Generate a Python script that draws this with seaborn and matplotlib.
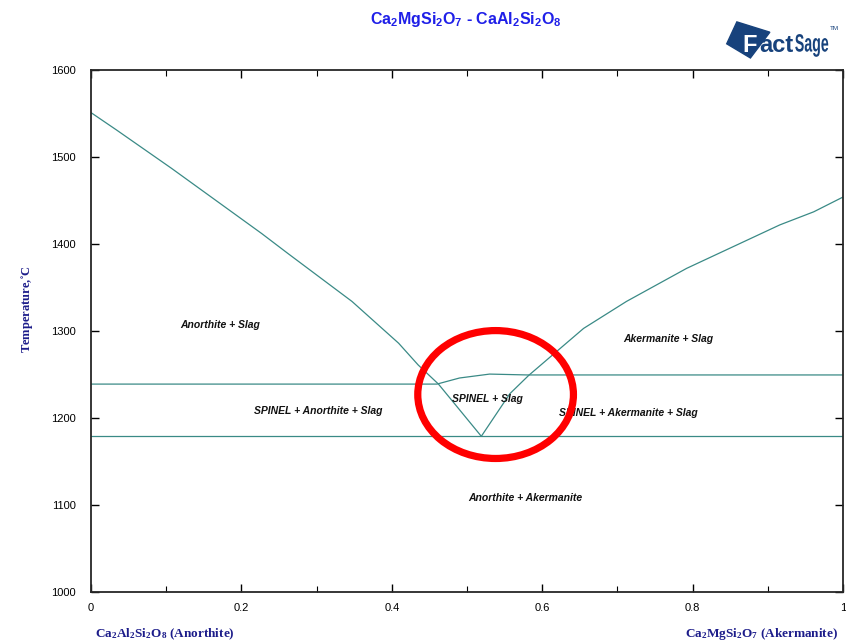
import numpy as np
import pandas as pd
import matplotlib
matplotlib.use("Agg")
import matplotlib.pyplot as plt
from matplotlib.patches import Ellipse, Polygon, PathPatch
from matplotlib.textpath import TextPath
from matplotlib.font_manager import FontProperties
from matplotlib.transforms import Affine2D
import seaborn as sns

# liquidus of anorthite (left branch), mole fraction akermanite vs T
anorthite_x = [0.0, 0.034, 0.107, 0.227, 0.262, 0.347, 0.409, 0.435, 0.462, 0.519]
anorthite_t = [1551, 1531, 1487, 1412, 1389, 1334, 1286, 1261, 1239, 1179]

# liquidus of akermanite (right branch)
akermanite_x = [0.519, 0.557, 0.582, 0.655, 0.712, 0.792, 0.854, 0.916, 0.961, 1.0]
akermanite_t = [1179, 1228, 1249, 1303, 1334, 1372, 1397, 1422, 1437, 1454]

# spinel boundary
spinel_x = [0.0, 0.46, 0.49, 0.53, 0.58, 1.0]
spinel_t = [1239, 1239, 1246, 1250.5, 1249.5, 1249.5]

# solidus / eutectic line
solidus_x = [0.0, 1.0]
solidus_t = [1179, 1179]

# region labels
labels = ["Anorthite + Slag", "Akermanite + Slag", "SPINEL + Anorthite + Slag",
          "SPINEL + Slag", "SPINEL + Akermanite + Slag", "Anorthite + Akermanite"]
label_x = [0.172, 0.767, 0.302, 0.527, 0.714, 0.577]
label_t = [1307, 1291, 1208, 1222, 1206, 1108]

sns.set_style("ticks")
plt.rcParams['font.family'] = ['Liberation Sans', 'DejaVu Sans']

fig = plt.figure(figsize=(8.46, 6.44), dpi=100)
ax = fig.add_axes([0.1076, 0.0807, 0.8889, 0.8106])

line_col = "#3a8a86"
curves = [(anorthite_x, anorthite_t), (akermanite_x, akermanite_t),
          (spinel_x, spinel_t), (solidus_x, solidus_t)]
for cx, ct in curves:
    df = pd.DataFrame({"x": cx, "T": ct})
    sns.lineplot(data=df, x="x", y="T", ax=ax, color=line_col, lw=0.9,
                 sort=False, estimator=None)

for lab, lx, lt in zip(labels, label_x, label_t):
    ax.text(lx, lt, lab, ha="center", va="center", fontsize=7.5,
            fontweight="bold", style="italic", color="#111111")

# red highlight ring
ax.add_patch(Ellipse((0.538, 1227), 0.207, 147, fill=False, ec="#ff0000",
                     lw=5.2, zorder=5))

ax.set_xlim(0, 1)
ax.set_ylim(1000, 1600)
ax.set_xticks([0, 0.2, 0.4, 0.6, 0.8, 1])
ax.set_xticklabels(["0", "0.2", "0.4", "0.6", "0.8", "1"])
ax.set_xticks(np.arange(0.1, 1.0, 0.2), minor=True)
ax.set_yticks(range(1000, 1601, 100))
ax.tick_params(which="both", direction="in", top=True, right=True,
               labelsize=8, colors="black")
ax.tick_params(axis="x", pad=8)
ax.tick_params(axis="y", pad=11)
ax.tick_params(which="major", length=6, width=1)
ax.tick_params(which="minor", length=4, width=0.8)
for sp in ax.spines.values():
    sp.set_linewidth(1.3)
ax.set_xlabel("")
ax.set_ylabel("")

navy = "#1c1c8a"
serif = ["Liberation Serif", "DejaVu Serif"]
fig.text(0.032, 0.519, "Temperature,$\\mathregular{^{\\circ}}$C", rotation=90,
         ha="center", va="center", fontsize=9, fontweight="bold", color=navy,
         family=serif)
fig.text(0.112, 0.015,
         r"Ca$\mathregular{_2}$Al$\mathregular{_2}$Si$\mathregular{_2}$O$\mathregular{_8}$ (Anorthite)",
         ha="left", va="center", fontsize=9.5, fontweight="bold", color=navy,
         family=serif)
fig.text(0.991, 0.015,
         r"Ca$\mathregular{_2}$MgSi$\mathregular{_2}$O$\mathregular{_7}$ (Akermanite)",
         ha="right", va="center", fontsize=9.5, fontweight="bold", color=navy,
         family=serif)

fig.text(0.551, 0.970,
         r"Ca$\mathregular{_2}$MgSi$\mathregular{_2}$O$\mathregular{_7}$ - CaAl$\mathregular{_2}$Si$\mathregular{_2}$O$\mathregular{_8}$",
         ha="center", va="center", fontsize=11.5, fontweight="bold",
         color="#1f1fe8")

# FactSage logo (approximation)
logo = "#17427c"
fig.patches.append(Polygon([[0.871, 0.966], [0.910, 0.950], [0.887, 0.910],
                            [0.859, 0.932]], closed=True, color=logo,
                           transform=fig.transFigure, figure=fig))
fig.text(0.877, 0.920, "F", ha="left", va="baseline", fontsize=17,
         fontweight="bold", color="white")
fig.text(0.897, 0.920, "act", ha="left", va="baseline", fontsize=17,
         fontweight="bold", color=logo)
sage = TextPath((0, 0), "Sage", size=1,
                prop=FontProperties(family=["Liberation Sans Narrow", "Liberation Sans"],
                                    weight="bold"))
ext = sage.get_extents()
sx = (33 / 846) / ext.width
sy = 25 / 644
tr = Affine2D().translate(-ext.x0, 0).scale(sx, sy).translate(0.940, 0.920) + fig.transFigure
fig.patches.append(PathPatch(sage, color=logo, lw=0, transform=tr, figure=fig))
fig.text(0.981, 0.956, "TM", ha="left", va="center", fontsize=4.5, color=logo)

fig.savefig("out.png", dpi=100)
